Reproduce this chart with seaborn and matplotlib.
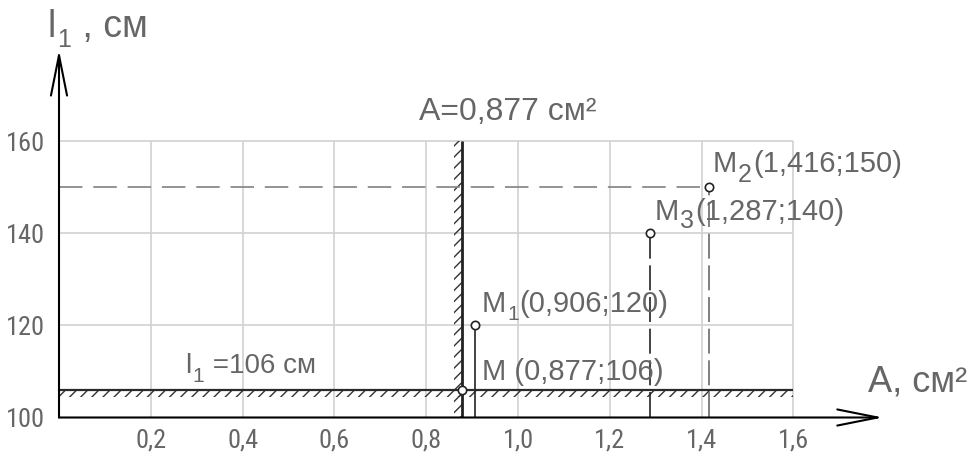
import matplotlib
matplotlib.use("Agg")
import matplotlib.pyplot as plt
import seaborn as sns
import pandas as pd
from matplotlib import font_manager as fm
from matplotlib.transforms import IdentityTransform

# ---------------- data ----------------
point_names = ["M", "M1", "M2", "M3"]
point_subscripts = ["", "1", "2", "3"]
area_cm2 = [0.877, 0.906, 1.416, 1.287]
length_cm = [106, 120, 150, 140]

x_ticks = [0.2, 0.4, 0.6, 0.8, 1.0, 1.2, 1.4, 1.6]
x_tick_labels = ["0,2", "0,4", "0,6", "0,8", "1,0", "1,2", "1,4", "1,6"]
y_ticks = [100, 120, 140, 160]
y_tick_labels = ["100", "120", "140", "160"]

limit_area = 0.877     # A = 0,877 cm^2
limit_length = 106     # l1 = 106 cm

# ---------------- style ----------------
sns.set_theme(style="white")
names = {f.name for f in fm.fontManager.ttflist}
main_font = "Liberation Sans" if "Liberation Sans" in names else "DejaVu Sans"
narrow_font = None
for cand in ["Liberation Sans Narrow", "DejaVu Sans Condensed", "Roboto Condensed",
             "Open Sans Condensed", "Noto Sans Condensed"]:
    if cand in names:
        narrow_font = cand
        break
plt.rcParams["font.family"] = [main_font, "DejaVu Sans"]
plt.rcParams["hatch.linewidth"] = 1.0
plt.rcParams["hatch.color"] = "#333333"

TXT = "#666666"
W, H = 971, 457
fig = plt.figure(figsize=(W / 100, H / 100), dpi=100)
fig.patch.set_facecolor("white")
ax = fig.add_axes([59 / W, (H - 417.5) / H, 826.2 / W, 368 / H])
ax.set_xlim(0, 1.8)
ax.set_ylim(100, 180)
ax.set_facecolor("white")
for s in ax.spines.values():
    s.set_visible(False)

# grid (limited to the drawing field)
ax.hlines(y_ticks[1:], 0, x_ticks[-1], color="#d4d4d4", lw=1.3, zorder=1)
ax.vlines(x_ticks, y_ticks[0], y_ticks[-1], color="#d4d4d4", lw=1.3, zorder=1)

# hatched boundaries
ax.fill_between([0, x_ticks[-1]], limit_length - 1.5, limit_length,
                facecolor="none", edgecolor="#333333", hatch="///", linewidth=0, zorder=2)
ax.hlines(limit_length, 0, x_ticks[-1], color="#2a2a2a", lw=1.6, zorder=3)
ax.fill_betweenx([y_ticks[0], y_ticks[-1]], limit_area - 0.0155, limit_area,
                 facecolor="none", edgecolor="#333333", hatch="///", linewidth=0, zorder=2)
ax.vlines(limit_area, y_ticks[0], y_ticks[-1], color="#222222", lw=2.0, zorder=3)

df = pd.DataFrame({"name": point_names, "sub": point_subscripts,
                   "A": area_cm2, "l1": length_cm})
m1 = df[df.name == "M1"].iloc[0]
m2 = df[df.name == "M2"].iloc[0]
m3 = df[df.name == "M3"].iloc[0]

# projection lines
ax.plot([0, m2.A], [m2.l1, m2.l1], color="#8a8a8a", lw=1.3, dashes=(13, 6), zorder=2)
ax.plot([m2.A, m2.A], [y_ticks[0], m2.l1], color="#6a6a6a", lw=1.2, dashes=(15, 4), zorder=2)
ax.plot([m3.A, m3.A], [y_ticks[0], m3.l1], color="#222222", lw=1.2, dashes=(15, 4), zorder=2)
ax.plot([m1.A, m1.A], [y_ticks[0], m1.l1], color="#222222", lw=1.2, zorder=2)

# points
sns.scatterplot(data=df, x="A", y="l1", marker="o", s=36, color="white",
                edgecolor="#222222", linewidth=1.2, zorder=6, ax=ax, legend=False)
ax.set_xlabel("")
ax.set_ylabel("")

# ticks
tick_size = 19 if narrow_font else 18
ax.set_xticks(x_ticks, x_tick_labels)
ax.set_yticks(y_ticks, y_tick_labels)
ax.tick_params(axis="both", length=0, labelsize=tick_size, labelcolor=TXT)
ax.tick_params(axis="x", pad=8)
ax.tick_params(axis="y", pad=10)
if narrow_font:
    for lab in ax.get_xticklabels() + ax.get_yticklabels():
        lab.set_family([narrow_font, "DejaVu Sans"])

# axis arrows
arrow = dict(arrowstyle="->,head_length=2.9,head_width=0.58", color="black",
             lw=1.5, shrinkA=0, shrinkB=0, mutation_scale=10)
ax.annotate("", xy=(1.795, 100), xytext=(0, 100), arrowprops=arrow, annotation_clip=False)
ax.annotate("", xy=(0, 179.9), xytext=(0, 100), arrowprops=arrow, annotation_clip=False)

renderer = fig.canvas.get_renderer()


def rich(x, y, pieces, gap=1.0):
    """Place text pieces (text, drop_px, size) starting at display pixel (x, y) baseline."""
    cur = x
    for txt, drop, size in pieces:
        t = fig.text(cur, y - drop, txt, transform=IdentityTransform(), fontsize=size,
                     color=TXT, ha="left", va="baseline")
        bb = t.get_window_extent(renderer)
        cur = bb.x1 + gap


def fmt(v):
    return f"{v:.3f}".replace(".", ",")


# point labels
offsets = {"M": (20, 10), "M1": (7, 13.5), "M2": (4, 15.5), "M3": (5, 13.5)}
drops = {"1": (8, 15), "2": (10, 18), "3": (8, 18)}
for _, r in df.iterrows():
    px, py = ax.transData.transform((r.A, r.l1))
    dx, dy = offsets[r["name"]]
    coord = f"({fmt(r.A)};{r.l1})"
    if r["sub"]:
        d, sz = drops[r["sub"]]
        rich(px + dx, py + dy, [("M", 0, 21), (r["sub"], d, sz), (coord, 0, 21)])
    else:
        rich(px + dx, py + dy, [("M " + coord, 0, 21)])

# boundary labels
rich(185, H - 373, [("l", 0, 20), ("1", 9, 15), (" =" + f"{limit_length} см", 0, 20)])
fig.text(419, H - 120, f"A={fmt(limit_area)} см²", transform=IdentityTransform(),
         fontsize=23, color=TXT, ha="left", va="baseline")

# axis titles
rich(48, H - 37, [("l", 0, 27), ("1", 10, 18), (" , см", 0, 27)])
fig.text(868, H - 392, "A, см²", transform=IdentityTransform(),
         fontsize=26, color=TXT, ha="left", va="baseline")

fig.savefig("out.png", dpi=100, facecolor="white")
